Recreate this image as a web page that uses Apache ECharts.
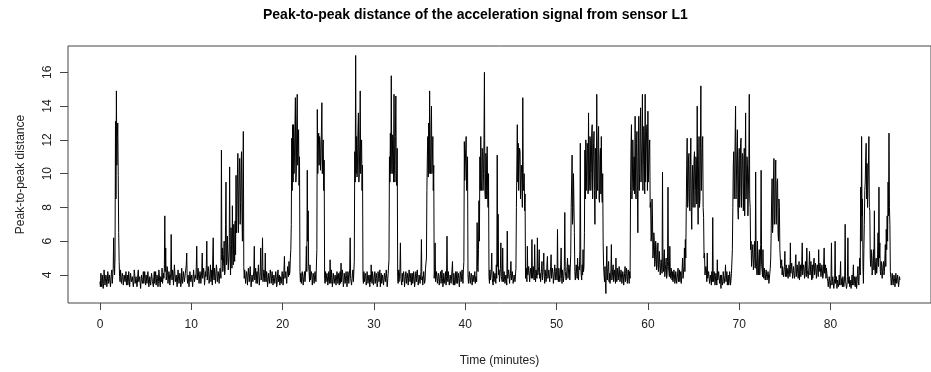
<!DOCTYPE html>
<html>
<head>
<meta charset="utf-8">
<script src="https://cdn.jsdelivr.net/npm/echarts@6/dist/echarts.min.js"></script>
<style>
html,body{margin:0;padding:0;background:#fff;}
#chart{width:931px;height:372px;}
</style>
</head>
<body>
<div id="chart"></div>
<script>
// Sampling of the series: one reading every 0.05 minute, starting at 0
var startMinute = 0;
var stepMinute = 0.05;

// Peak-to-peak distance (20 readings per minute, one line per minute)
var peakToPeak = [
3.6,3.3,4.1,3.5,3.3,4.0,3.9,3.2,3.5,4.3,4.2,3.4,3.4,4.0,3.8,3.3,3.6,4.2,4.0,3.5,
3.5,4.0,3.9,3.3,3.4,4.1,4.3,3.5,3.6,4.4,6.2,4.6,4.0,5.0,13.1,8.5,14.9,10.5,12.2,13.0,
9.9,6.5,4.8,3.9,3.6,4.3,4.2,3.5,3.5,4.1,3.9,3.4,3.3,4.0,4.1,3.6,3.7,4.2,3.4,3.8,
4.0,3.4,3.6,4.2,3.8,3.3,3.3,4.1,4.2,3.6,3.5,3.9,3.9,3.3,3.6,4.3,4.1,3.5,3.4,3.9,
3.8,3.3,3.5,4.1,4.3,3.6,3.6,3.9,3.9,3.2,3.3,4.0,4.0,3.5,3.7,4.2,3.5,3.4,4.2,3.7,
3.4,4.0,3.9,3.5,3.6,4.2,4.1,3.3,3.5,3.9,3.8,3.4,3.3,4.1,4.0,3.6,3.6,3.3,3.9,4.2,
3.5,3.9,4.2,3.4,3.4,4.0,3.8,3.3,3.6,4.3,4.0,3.5,3.3,3.9,3.9,3.6,4.4,3.5,3.6,4.1,
3.8,4.4,7.5,4.2,5.6,3.7,3.9,4.5,4.3,3.5,3.6,4.2,4.0,3.4,3.5,4.1,6.4,3.9,3.7,4.3,
4.1,3.4,3.5,4.6,4.5,3.6,3.6,4.0,3.9,3.3,3.4,4.3,4.2,3.5,3.7,4.1,4.0,3.3,3.5,4.4,
3.9,3.5,3.4,4.2,4.3,3.6,3.6,4.1,4.0,4.6,5.3,3.8,3.5,4.0,3.8,3.3,3.3,4.2,4.1,3.6,
3.6,4.0,3.9,3.3,3.4,4.3,4.2,3.6,3.5,4.0,3.8,4.5,5.7,3.7,3.6,4.4,4.4,3.5,3.5,4.2,
4.0,3.5,3.4,4.3,5.3,3.8,3.7,4.4,4.1,3.4,3.5,4.2,3.9,4.6,6.0,3.7,3.6,4.5,4.2,3.5,
3.5,4.1,4.6,3.6,3.8,4.3,3.4,5.0,6.2,3.9,3.7,4.4,4.0,3.5,3.5,4.6,4.3,3.6,3.6,4.2,
3.9,3.5,3.4,4.4,4.1,3.8,11.4,4.9,5.6,4.2,4.5,5.2,6.0,4.0,4.2,7.0,9.5,4.6,4.8,6.3,
6.3,4.3,4.4,5.5,10.4,5.0,4.0,6.8,5.8,4.4,8.1,5.5,4.6,7.0,5.5,4.8,7.2,5.2,9.9,6.5,
7.5,10.0,11.2,6.5,8.5,10.2,10.9,7.0,8.3,10.5,11.3,7.5,6.0,9.5,12.5,4.5,3.8,4.3,4.2,3.5,
3.6,4.2,4.0,3.4,3.5,4.4,4.3,3.6,3.7,4.5,3.9,3.3,3.4,4.0,4.1,3.6,3.6,4.3,5.7,3.7,
3.8,4.4,3.5,4.0,4.2,3.5,3.6,4.6,4.0,3.4,3.4,4.2,5.6,3.7,3.9,4.5,6.2,3.6,3.7,4.3,
4.1,3.6,5.3,3.8,3.6,4.2,3.9,3.3,3.4,4.1,4.2,3.5,3.6,4.3,4.0,3.5,3.5,4.2,3.8,3.4,
3.4,4.0,4.1,3.5,3.6,4.2,3.9,3.3,3.5,4.1,4.3,3.6,3.7,4.0,3.4,3.9,4.0,3.5,3.6,4.2,
3.9,3.4,3.5,4.3,5.1,3.8,3.7,4.2,4.1,3.5,3.6,4.5,4.4,3.9,4.8,4.0,4.2,5.0,5.5,7.0,
12.1,9.0,12.9,9.5,12.9,10.0,11.0,12.8,14.5,9.5,10.0,13.0,14.7,10.5,11.5,12.6,9.3,11.0,4.2,3.6,
4.1,3.5,3.5,4.2,3.9,3.4,3.4,4.0,4.2,3.6,3.6,4.4,5.7,4.2,10.2,6.0,7.8,4.5,4.2,3.6,
4.6,3.7,3.6,4.2,4.0,3.4,3.5,4.1,3.9,3.5,3.4,4.2,4.3,3.6,3.7,5.5,13.8,10.0,11.5,12.4,
10.5,12.2,11.9,10.2,10.8,12.5,14.2,10.0,11.5,12.0,9.0,10.8,3.8,3.5,4.2,3.6,3.5,4.1,3.9,3.4,
3.6,4.2,4.1,3.5,4.9,3.7,3.5,4.3,3.8,3.3,3.4,4.1,4.2,3.5,3.6,4.0,3.9,3.4,3.5,4.2,
4.0,3.5,3.6,4.1,3.4,3.9,4.2,3.5,4.7,3.6,3.7,4.3,3.9,3.3,3.5,4.1,4.1,3.5,3.6,4.2,
3.8,3.3,3.4,4.2,4.0,3.5,3.6,4.4,6.2,3.8,3.9,3.4,3.5,4.1,4.3,3.6,3.7,4.8,11.3,9.5,
17.0,10.0,12.2,9.8,10.5,12.5,13.6,9.5,10.0,12.0,14.9,10.0,11.3,12.0,9.0,10.5,3.8,3.5,4.2,3.6,
3.5,4.1,3.9,3.4,3.6,4.2,4.1,3.5,3.4,4.0,3.8,3.3,4.0,3.6,4.6,3.7,3.5,4.2,3.9,3.4,
3.6,4.0,4.2,3.5,3.4,4.1,3.8,3.3,3.5,4.2,4.0,3.6,3.7,4.3,3.3,3.8,4.1,3.5,3.6,4.0,
3.9,3.4,3.5,4.1,4.2,3.6,3.6,4.3,3.8,3.3,3.4,4.0,4.0,4.9,11.0,9.5,12.4,10.0,15.8,10.5,
10.0,12.3,12.0,9.5,14.7,10.5,9.5,12.2,14.6,10.0,9.3,11.5,3.9,3.5,4.3,3.6,3.6,4.4,5.9,3.8,
3.7,3.4,4.1,3.6,3.5,4.2,3.9,3.3,3.4,4.0,4.2,3.5,3.6,4.1,3.8,3.4,3.5,4.3,4.0,3.6,
3.6,4.1,3.4,3.9,4.1,3.5,3.7,4.2,3.9,3.3,3.5,4.0,4.2,3.6,3.6,4.3,3.8,3.4,3.4,4.0,
4.0,3.5,3.6,4.2,6.1,3.7,3.9,3.4,3.5,4.2,4.1,3.5,3.7,4.4,4.4,5.0,9.0,11.0,12.2,9.8,
13.0,10.0,14.9,10.5,10.0,12.5,14.0,10.0,11.0,12.2,9.0,10.5,3.8,4.3,5.9,3.6,3.6,4.2,4.1,3.5,
3.5,4.1,3.9,3.4,3.4,4.0,4.2,3.5,3.6,4.3,3.8,3.3,3.5,4.1,4.0,3.5,3.7,4.2,3.4,3.9,
6.3,3.8,3.6,4.2,4.1,3.4,3.5,4.0,3.9,3.5,3.6,4.3,4.8,3.6,3.4,4.1,4.0,3.4,3.7,4.2,
3.5,4.0,4.2,3.5,3.6,4.1,3.8,3.3,3.4,4.2,4.0,3.6,3.6,4.3,3.9,3.5,4.3,4.8,11.9,9.6,
9.5,11.5,12.2,9.0,9.3,11.0,4.0,3.5,3.6,4.2,4.2,3.5,3.5,4.1,3.9,3.4,3.4,4.0,4.1,3.6,
3.7,4.2,3.5,3.9,4.0,3.6,7.1,4.5,4.2,5.5,8.4,6.0,11.0,9.0,12.2,9.5,9.0,11.5,11.3,9.0,
10.0,12.0,16.0,9.0,8.5,11.2,11.0,8.5,11.6,9.0,8.0,10.0,3.9,3.5,4.3,3.7,3.6,4.2,5.3,3.8,
3.8,3.4,4.2,3.6,3.5,4.1,4.0,3.5,4.6,3.8,11.1,4.5,7.6,4.0,4.3,3.6,3.7,4.4,5.9,3.9,
4.0,3.6,5.6,3.8,3.6,4.2,4.1,3.5,3.5,4.0,3.9,3.4,6.6,3.8,3.7,4.3,4.0,3.5,3.4,4.1,
4.8,3.7,3.6,4.2,4.1,3.5,3.5,4.0,3.9,3.6,3.7,4.4,8.0,10.5,12.9,9.5,11.8,9.0,10.5,11.5,
11.3,8.5,8.5,10.5,10.0,8.0,14.5,9.5,9.0,10.0,7.8,8.8,3.8,4.2,4.4,3.6,5.7,4.0,3.9,4.5,
4.5,3.6,3.7,4.4,4.2,3.8,6.1,4.0,3.8,4.5,4.6,3.7,5.8,4.1,3.6,4.3,4.3,3.8,6.2,4.0,
3.9,4.5,5.5,3.8,4.1,3.6,3.6,4.4,4.8,3.7,3.8,4.5,5.3,3.9,3.5,4.3,4.2,3.6,3.9,4.7,
5.1,3.8,3.7,4.3,4.4,3.6,3.6,4.5,5.2,3.8,3.9,4.4,4.1,3.5,3.5,4.2,4.6,3.7,3.8,4.4,
4.2,3.7,6.7,4.0,3.6,4.4,4.0,3.6,3.8,4.6,5.6,3.8,3.5,4.3,4.3,3.6,3.9,4.5,7.7,4.2,
4.1,3.7,3.6,4.5,5.0,3.8,3.9,4.6,4.4,3.7,3.7,5.2,8.0,9.5,11.1,7.0,7.6,10.0,9.9,6.5,
4.2,3.7,3.8,4.6,4.5,3.8,5.0,3.9,3.7,4.5,4.3,5.5,11.8,4.5,4.0,3.7,4.6,4.0,5.5,4.2,
4.5,6.5,11.4,8.5,12.0,9.0,9.0,11.8,11.5,8.8,13.6,9.0,9.5,12.2,12.0,9.0,10.0,12.5,12.9,8.5,
8.5,11.8,12.5,9.0,7.0,11.5,11.0,8.5,14.7,9.5,9.0,12.0,12.8,8.5,8.3,11.0,11.5,8.8,12.2,9.0,
8.3,10.0,5.9,4.5,4.0,3.6,4.5,3.5,2.9,4.4,5.7,3.7,3.8,4.5,4.8,3.6,4.1,3.5,3.6,4.3,
5.8,3.7,3.9,4.4,4.6,3.6,3.7,4.3,4.2,3.5,5.0,3.8,3.6,4.4,4.3,3.7,3.8,4.5,4.4,3.6,
3.7,4.3,4.1,3.5,3.6,4.2,4.0,3.4,3.5,4.1,4.5,3.6,3.8,4.4,4.2,3.5,3.6,4.3,3.9,3.5,
4.2,3.8,9.0,11.5,12.9,8.5,9.5,12.0,12.1,9.0,11.0,8.8,13.4,9.5,8.5,11.8,12.5,9.0,6.5,11.0,
13.4,9.0,10.0,12.5,13.9,9.5,9.5,12.0,14.7,9.0,10.5,12.8,12.0,8.8,14.7,9.5,9.4,12.5,12.9,9.0,
13.7,9.5,9.4,11.5,12.0,8.0,8.3,6.0,6.3,8.5,7.5,5.0,5.4,6.5,6.0,4.5,4.8,6.0,5.7,4.3,
4.5,5.5,5.9,4.2,4.6,5.4,5.3,4.0,4.0,4.9,4.8,4.1,10.1,4.5,4.2,5.0,5.5,3.9,3.9,4.6,
5.0,3.8,4.0,4.8,9.2,4.5,4.5,3.9,5.7,4.2,3.8,4.4,4.4,3.7,4.2,3.6,3.6,4.3,4.0,3.5,
3.7,4.2,4.1,3.5,3.5,4.1,4.4,3.6,3.8,4.3,3.6,4.0,4.2,3.5,3.9,4.4,5.0,3.8,3.7,4.5,
5.6,4.2,6.1,5.0,8.0,10.5,12.1,8.0,8.5,11.0,11.2,8.0,7.8,10.5,12.1,8.0,6.7,9.5,10.5,8.0,
8.0,10.8,11.3,8.0,9.0,11.0,10.8,8.2,14.0,9.0,7.0,10.5,12.2,8.0,8.5,11.5,15.2,9.0,9.0,11.5,
12.2,8.0,7.4,5.0,5.3,4.0,3.9,4.5,4.3,3.6,5.3,3.8,3.7,4.2,4.1,3.5,3.5,4.0,3.9,3.4,
4.2,3.6,7.4,4.0,3.6,4.2,4.0,3.4,3.5,4.1,3.8,3.4,4.9,3.7,3.6,4.2,4.1,3.5,3.4,4.0,
3.2,4.0,3.9,3.4,3.6,4.2,4.1,3.5,3.5,4.0,4.6,3.6,3.7,4.2,3.4,3.8,4.0,3.4,3.6,4.2,
3.9,3.4,3.5,4.1,4.2,5.5,8.0,10.5,11.3,8.5,9.5,12.0,14.0,8.5,8.5,11.5,12.6,8.0,7.3,10.5,
11.5,8.0,9.0,11.8,12.1,8.0,8.0,11.2,11.0,7.8,9.5,11.5,7.5,10.0,13.6,8.5,8.5,11.0,10.6,7.5,
7.5,10.5,14.7,8.5,8.0,5.5,6.0,4.5,4.5,5.5,5.8,4.3,4.2,5.2,6.0,4.4,10.1,5.0,4.5,4.0,
6.0,4.2,4.0,5.0,5.5,4.0,4.5,5.8,10.2,4.6,4.3,3.9,5.5,4.0,3.8,4.4,4.5,3.7,3.7,4.3,
4.3,3.7,3.6,4.2,4.0,3.5,3.5,4.1,4.4,5.0,6.5,8.5,9.7,6.5,7.0,9.5,10.9,7.0,7.5,9.8,
10.8,7.0,7.0,9.5,9.7,6.5,6.0,8.5,8.0,5.5,5.0,4.4,4.4,4.9,4.0,4.5,4.6,3.9,3.8,4.5,
5.4,3.9,4.2,4.6,3.9,4.4,4.5,3.8,3.7,4.6,4.3,3.9,5.9,4.1,4.0,4.7,4.6,3.8,3.8,4.5,
4.4,3.8,4.0,4.7,5.2,3.9,3.9,4.6,4.5,3.8,4.1,4.8,3.7,4.4,4.6,3.9,4.2,4.8,5.9,4.0,
3.9,4.6,4.4,3.8,4.0,4.8,4.7,3.9,5.6,4.3,4.2,3.8,3.8,4.6,5.4,4.0,4.3,4.8,4.0,3.7,
4.6,3.8,3.9,4.7,5.0,4.0,4.2,4.7,4.5,3.8,3.8,4.6,4.4,3.9,5.5,4.2,4.1,4.7,4.6,3.9,
3.9,4.6,4.3,3.8,4.0,4.7,5.6,4.1,4.2,4.6,3.8,4.4,4.5,3.8,3.6,3.3,3.4,3.9,3.7,3.2,
3.3,3.8,5.9,3.4,3.6,3.9,3.9,3.2,3.4,3.8,6.0,3.5,3.5,3.9,3.2,3.7,3.8,3.3,3.5,4.0,
3.4,3.9,4.8,3.4,3.6,3.8,3.3,3.9,3.9,3.3,3.5,4.0,7.0,3.6,3.7,3.2,3.4,3.9,6.2,3.5,
3.6,3.9,3.3,3.7,3.8,3.2,3.5,4.0,3.4,3.8,4.6,3.4,3.6,3.9,3.3,3.7,3.9,3.2,3.5,4.1,
4.5,3.6,3.4,4.2,5.0,4.0,9.2,6.0,12.2,7.5,8.5,4.5,3.5,5.5,7.0,9.0,9.5,11.0,11.8,8.5,
10.6,8.0,8.0,10.5,12.2,8.0,7.8,5.0,4.5,5.5,5.0,4.0,4.2,5.0,5.5,4.3,7.8,4.5,4.0,4.8,
5.0,4.1,4.5,5.2,6.5,4.5,9.2,5.0,5.9,4.2,4.0,4.8,4.5,3.8,3.8,4.6,4.8,4.0,4.2,5.0,
5.8,4.5,6.7,5.5,7.5,6.0,9.5,7.5,12.4,8.0,7.0,4.2,3.8,3.4,3.5,4.1,4.0,3.4,3.4,4.0,
3.8,3.3,3.5,4.1,4.1,3.5,3.6,4.0,3.9,3.3,3.4,3.9,3.7
];

// Axis tick labels
var xTicks = [0, 10, 20, 30, 40, 50, 60, 70, 80];
var yTicks = [4, 6, 8, 10, 12, 14, 16];

var chartTitle = 'Peak-to-peak distance of the acceleration signal from sensor L1';
var xTitle = 'Time (minutes)';
var yTitle = 'Peak-to-peak distance';

var seriesData = peakToPeak.map(function (v, i) {
  return [+(startMinute + i * stepMinute).toFixed(2), v];
});

var chart = echarts.init(document.getElementById('chart'), null, {renderer: 'canvas'});
var font = '"Liberation Sans", Arial, sans-serif';
chart.setOption({
  animation: false,
  backgroundColor: '#ffffff',
  graphic: [{
    type: 'text',
    left: 503 - 240,
    top: 8,
    style: {
      text: chartTitle,
      font: 'bold 14px ' + font,
      fill: '#000',
      width: 480,
      align: 'center'
    }
  }],
  grid: {
    left: 68, top: 46, width: 871, height: 262,
    show: true, borderColor: '#444', borderWidth: 1, backgroundColor: 'transparent'
  },
  xAxis: {
    type: 'value', min: -3.5, max: 91,
    name: xTitle, nameLocation: 'middle', nameGap: 52,
    nameTextStyle: {fontFamily: font, fontSize: 12, color: '#222'},
    axisLine: {show: false, onZero: false},
    splitLine: {show: false},
    axisTick: {show: true, length: 7, inside: false, customValues: xTicks, lineStyle: {color: '#444'}},
    axisLabel: {customValues: xTicks, margin: 16, fontFamily: font, fontSize: 12, color: '#222'}
  },
  yAxis: {
    type: 'value', min: 2.34, max: 17.56,
    name: yTitle, nameLocation: 'middle', nameGap: 41, nameRotate: 90,
    nameTextStyle: {fontFamily: font, fontSize: 12, color: '#222'},
    axisLine: {show: false, onZero: false},
    splitLine: {show: false},
    axisTick: {show: true, length: 8, inside: false, customValues: yTicks, lineStyle: {color: '#444'}},
    axisLabel: {customValues: yTicks, rotate: 90, margin: 14, fontFamily: font, fontSize: 12, color: '#222'}
  },
  series: [{
    type: 'line',
    data: seriesData,
    showSymbol: false,
    symbol: 'none',
    sampling: null,
    lineStyle: {color: '#000', width: 1},
    silent: true
  }]
});
</script>
</body>
</html>
